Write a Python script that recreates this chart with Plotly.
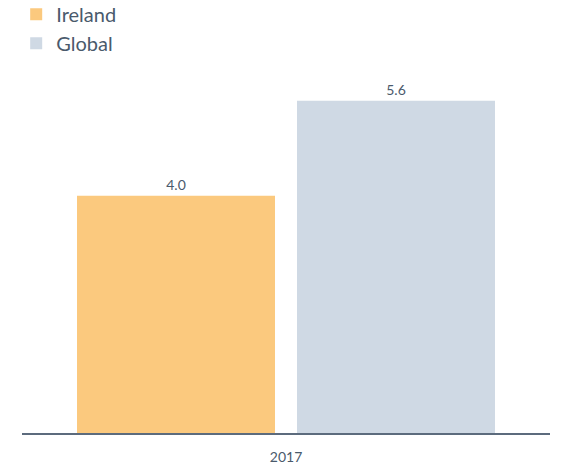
import plotly.graph_objects as go

categories = ["2017"]
ireland = [4.0]
global_vals = [5.6]

TEXT = "#4a5a6c"
FONT = "Lato"

fig = go.Figure()
fig.add_trace(go.Bar(
    name="Ireland", x=categories, y=ireland,
    marker=dict(color="#FBC97E", line=dict(width=0)),
    text=[f"{v:.1f}" for v in ireland], textposition="outside",
    textfont=dict(size=14, color=TEXT, family=FONT), cliponaxis=False,
))
fig.add_trace(go.Bar(
    name="Global", x=categories, y=global_vals,
    marker=dict(color="#CFD9E4", line=dict(width=0)),
    text=[f"{v:.1f}" for v in global_vals], textposition="outside",
    textfont=dict(size=14, color=TEXT, family=FONT), cliponaxis=False,
))

fig.update_layout(
    width=568, height=464,
    margin=dict(l=22, r=18, t=0, b=31, autoexpand=False),
    paper_bgcolor="white", plot_bgcolor="white",
    barmode="group", bargap=0.1667, bargroupgap=0.1,
    font=dict(family=FONT, color=TEXT),
    legend=dict(
        x=-0.011, y=1.012, xanchor="left", yanchor="top",
        orientation="v", font=dict(size=20, color=TEXT, family=FONT),
        tracegroupgap=0, itemwidth=30, bgcolor="rgba(0,0,0,0)",
    ),
    showlegend=True,
)
fig.update_xaxes(
    showline=True, linecolor="#5c6b7d", linewidth=2,
    ticks="", tickfont=dict(size=14, color=TEXT, family=FONT),
    ticklabelstandoff=10, showgrid=False,
)
fig.update_yaxes(
    range=[0, 7.30], visible=False, showgrid=False, zeroline=False,
)

fig.write_html("out.html")
